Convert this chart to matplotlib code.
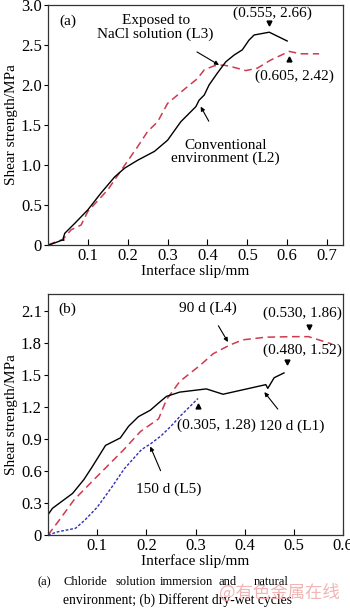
import matplotlib
matplotlib.use("Agg")
import matplotlib.pyplot as plt

plt.rcParams['font.family'] = ['Liberation Serif', 'DejaVu Serif']

# ---------- data: panel (a) ----------
l2_x = [0.0, 0.008, 0.035, 0.040, 0.038, 0.042, 0.067, 0.100, 0.133, 0.167, 0.192, 0.225, 0.267,
        0.300, 0.333, 0.371, 0.379, 0.392, 0.404, 0.425, 0.446, 0.467, 0.4875, 0.504,
        0.517, 0.555, 0.600]
l2_y = [0.0, 0.01, 0.06, 0.06, 0.08, 0.146, 0.27, 0.44, 0.65, 0.85, 0.96, 1.06, 1.17,
        1.31, 1.54, 1.73, 1.81, 1.875, 2.00, 2.15, 2.29, 2.375, 2.44, 2.56,
        2.625, 2.66, 2.55]
l3_x = [0.0, 0.020, 0.0375, 0.058, 0.083, 0.100, 0.150, 0.190, 0.225, 0.250, 0.275, 0.300,
        0.325, 0.350, 0.375, 0.392, 0.417, 0.440, 0.467, 0.496, 0.525, 0.558, 0.605,
        0.633, 0.680]
l3_y = [0.0, 0.04, 0.07, 0.19, 0.25, 0.42, 0.69, 0.98, 1.23, 1.42, 1.54, 1.77,
        1.875, 1.98, 2.08, 2.19, 2.24, 2.25, 2.22, 2.18, 2.21, 2.31, 2.42,
        2.39, 2.39]
a_xticks = [0.1, 0.2, 0.3, 0.4, 0.5, 0.6, 0.7]
a_xticklabels = ['0.1', '0.2', '0.3', '0.4', '0.5', '0.6', '0.7']
a_yticks = [0, 0.5, 1.0, 1.5, 2.0, 2.5, 3.0]
a_yticklabels = ['0', '0.5', '1.0', '1.5', '2.0', '2.5', '3.0']
a_peak_l2 = (0.555, 2.66)
a_peak_l3 = (0.605, 2.42)

# ---------- data: panel (b) ----------
l1_x = [0.0, 0.009, 0.050, 0.073, 0.090, 0.117, 0.147, 0.164, 0.184, 0.208, 0.228, 0.241,
        0.268, 0.322, 0.356, 0.443, 0.447, 0.460, 0.480]
l1_y = [0.19, 0.25, 0.39, 0.52, 0.64, 0.84, 0.91, 1.02, 1.11, 1.17, 1.25, 1.30,
        1.34, 1.37, 1.32, 1.41, 1.375, 1.475, 1.52]
l4_x = [0.0, 0.023, 0.053, 0.100, 0.154, 0.188, 0.225, 0.241, 0.268, 0.309, 0.336, 0.369,
        0.396, 0.443, 0.497, 0.530, 0.578]
l4_y = [0.0, 0.14, 0.33, 0.55, 0.80, 0.97, 1.09, 1.27, 1.44, 1.59, 1.70, 1.78,
        1.83, 1.855, 1.86, 1.86, 1.79]
l5_x = [0.0, 0.020, 0.056, 0.075, 0.100, 0.130, 0.155, 0.190, 0.210, 0.230, 0.250, 0.270, 0.305]
l5_y = [0.0, 0.03, 0.063, 0.14, 0.26, 0.45, 0.62, 0.80, 0.86, 0.93, 1.02, 1.12, 1.28]
b_xticks = [0.1, 0.2, 0.3, 0.4, 0.5, 0.6]
b_xticklabels = ['0.1', '0.2', '0.3', '0.4', '0.5', '0.6']
b_yticks = [0, 0.3, 0.6, 0.9, 1.2, 1.5, 1.8, 2.1]
b_yticklabels = ['0', '0.3', '0.6', '0.9', '1.2', '1.5', '1.8', '2.1']
b_peak_l1 = (0.480, 1.52)
b_peak_l4 = (0.530, 1.86)
b_peak_l5 = (0.305, 1.28)

caption_line1 = ['(a)', 'Chloride', 'solution', 'immersion', 'and', 'natural']
caption_line2 = 'environment; (b) Different dry-wet cycles'
watermark = '@有色金属在线'

RED = '#cf3a4e'
BLUE = '#2f2fb8'
FS = 11          # annotations / axis labels
TFS = 12         # tick labels

fig = plt.figure(figsize=(3.5, 6.1), dpi=100)
axa = fig.add_axes([48/350, 1-245/610, 295/350, 240/610])
axb = fig.add_axes([48/350, 1-535/610, 295/350, 241/610])

def style(ax, xt, xtl, yt, ytl, xlim, ylim):
    ax.set_xlim(*xlim)
    ax.set_ylim(*ylim)
    ax.set_xticks(xt)
    ax.set_xticklabels(xtl, fontsize=TFS)
    ax.set_yticks(yt)
    ax.set_yticklabels(ytl, fontsize=TFS)
    ax.tick_params(axis='x', direction='in', length=4, width=0.8, pad=2)
    ax.tick_params(axis='y', direction='out', length=3, width=0.8, pad=1.5)
    for s in ax.spines.values():
        s.set_linewidth(0.9)
        s.set_color('#333333')
    ax.set_xlabel('Interface slip/mm', fontsize=FS, labelpad=0)
    ax.set_ylabel('Shear strength/MPa', fontsize=FS, labelpad=2)

# ---------- panel (a) ----------
style(axa, a_xticks, a_xticklabels, a_yticks, a_yticklabels, (0, 0.74), (0, 3.0))
axa.plot(l3_x, l3_y, color=RED, lw=1.1, dashes=(5, 3))
axa.plot(l2_x, l2_y, color='black', lw=1.0)
axa.plot([a_peak_l2[0]], [a_peak_l2[1] + 0.12], marker='v', color='black', ms=3.5, ls='none')
axa.plot([a_peak_l3[0]], [a_peak_l3[1] - 0.1], marker='^', color='black', ms=3.5, ls='none')
axa.text(0.5625, 2.90, '(%.3f, %.2f)' % a_peak_l2, ha='center', va='center', fontsize=FS)
axa.text(0.617, 2.11, '(%.3f, %.2f)' % a_peak_l3, ha='center', va='center', fontsize=FS)
axa.text(0.04, 0.96, '(a)', transform=axa.transAxes, ha='left', va='top', fontsize=FS)
axa.annotate('Exposed to\nNaCl solution (L3)', xy=(0.429, 2.25), xytext=(0.27, 2.72),
             ha='center', va='center', fontsize=FS, linespacing=1.0,
             arrowprops=dict(arrowstyle='-|>', color='black', lw=0.8,
                             shrinkA=12, shrinkB=0, mutation_scale=6))
axa.annotate('Conventional\nenvironment (L2)', xy=(0.383, 1.73), xytext=(0.446, 1.165),
             ha='center', va='center', fontsize=FS, linespacing=1.0,
             arrowprops=dict(arrowstyle='-|>', color='black', lw=0.8,
                             shrinkA=12, shrinkB=0, mutation_scale=6))

# ---------- panel (b) ----------
style(axb, b_xticks, b_xticklabels, b_yticks, b_yticklabels, (0, 0.6), (0, 2.26))
axb.plot(l4_x, l4_y, color=RED, lw=1.1, dashes=(5, 3))
axb.plot(l5_x, l5_y, color=BLUE, lw=1.0, dashes=(2, 1.3))
axb.plot(l1_x, l1_y, color='black', lw=1.0)
axb.plot([b_peak_l1[0] + 0.007], [b_peak_l1[1] + 0.1], marker='v', color='black', ms=3.5, ls='none')
axb.plot([b_peak_l4[0]], [b_peak_l4[1] + 0.09], marker='v', color='black', ms=3.5, ls='none')
axb.plot([b_peak_l5[0]], [b_peak_l5[1] - 0.07], marker='^', color='black', ms=3.5, ls='none')
axb.text(0.518, 2.08, '(%.3f, %.2f)' % b_peak_l4, ha='center', va='center', fontsize=FS)
axb.text(0.518, 1.73, '(%.3f, %.2f)' % b_peak_l1, ha='center', va='center', fontsize=FS)
axb.text(0.343, 1.03, '(%.3f, %.2f)' % b_peak_l5, ha='center', va='center', fontsize=FS)
axb.text(0.035, 0.965, '(b)', transform=axb.transAxes, ha='left', va='top', fontsize=FS)
axb.annotate('90 d (L4)', xy=(0.366, 1.81), xytext=(0.325, 2.13),
             ha='center', va='center', fontsize=FS,
             arrowprops=dict(arrowstyle='-|>', color='black', lw=0.8,
                             shrinkA=7, shrinkB=0, mutation_scale=6))
axb.annotate('120 d (L1)', xy=(0.44, 1.34), xytext=(0.495, 1.02),
             ha='center', va='center', fontsize=FS,
             arrowprops=dict(arrowstyle='-|>', color='black', lw=0.8,
                             shrinkA=7, shrinkB=0, mutation_scale=6))
axb.annotate('150 d (L5)', xy=(0.208, 0.83), xytext=(0.245, 0.43),
             ha='center', va='center', fontsize=FS,
             arrowprops=dict(arrowstyle='-|>', color='black', lw=0.8,
                             shrinkA=7, shrinkB=0, mutation_scale=6))

# ---------- caption ----------
CFS = 9.0
word_px = [38, 63, 115, 160, 219, 254]
for w, px in zip(caption_line1, word_px):
    fig.text(px/350, 1-582/610, w, ha='left', va='center', fontsize=CFS)
fig.text(63/350, 1-600/610, caption_line2, ha='left', va='center', fontsize=9.8)
fig.text(340/350, 1-593/610, watermark, ha='right', va='center', fontsize=12.5,
         color='#f0a8a8', alpha=0.85, family=['Noto Sans CJK SC', 'DejaVu Sans'])

fig.savefig('out.png', dpi=100)
